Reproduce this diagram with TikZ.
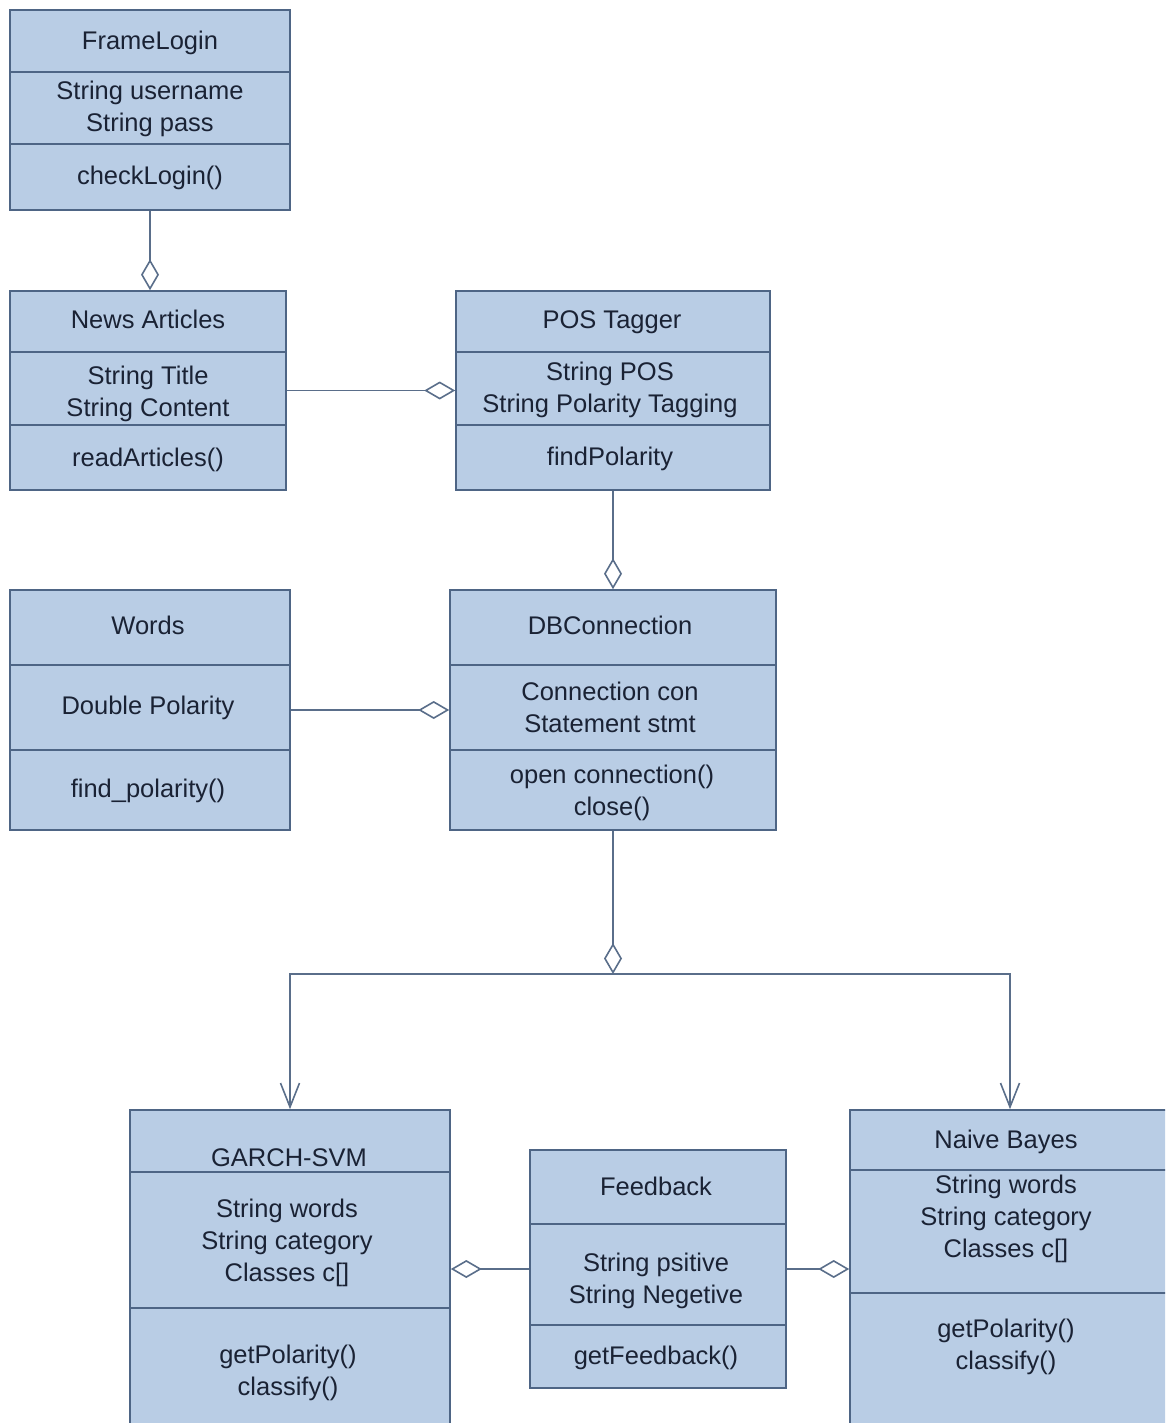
\documentclass[tikz,border=0pt]{standalone}
\usepackage{fontspec}
\setmainfont{Liberation Sans}
\usetikzlibrary{arrows.meta,fit}

\definecolor{boxfill}{HTML}{B9CDE5}
\definecolor{boxline}{HTML}{4E6585}
\definecolor{wire}{HTML}{5A6E8A}
\definecolor{ink}{HTML}{1A2234}

\tikzset{
  cls/.style={draw=boxline, fill=boxfill, line width=1.6pt, inner sep=0pt},
  sep/.style={draw=boxline, line width=1.6pt},
  lbl/.style={anchor=base, inner sep=0pt, text=ink,
              font=\fontsize{25.5}{30}\selectfont},
  link/.style={draw=wire, line width=1.9pt},
  agg/.style={link, -{Diamond[open, fill=white, length=31pt, width=18pt, line width=1.6pt]}},
  gen/.style={link, -{Straight Barb[length=24pt, width=19pt, line width=1.6pt]}}
}

% class box: name, left, top, right, bottom, first divider, second divider
\newcommand{\umlbox}[7]{%
  \node[cls, fit={(#2,#3) (#4,#5)}] (#1) {};
  \draw[sep] (#2,#6) -- (#4,#6);
  \draw[sep] (#2,#7) -- (#4,#7);
}

\begin{document}
\begin{tikzpicture}[x=1pt, y=-1pt]
  \useasboundingbox (0,0) rectangle (1165,1423);
  \clip (0,0) rectangle (1165,1423);

  % boxes
  \umlbox{frame}{10}{10}{290}{210}{72}{144}
  \umlbox{news}{10}{291}{286}{490}{352}{425}
  \umlbox{pos}{456}{291}{770}{490}{352}{425}
  \umlbox{words}{10}{590}{290}{830}{665}{750}
  \umlbox{db}{450}{590}{776}{830}{665}{750}
  \umlbox{garch}{130}{1110}{450}{1440}{1172}{1308}
  \umlbox{fb}{530}{1150}{786}{1388}{1224}{1325}
  \umlbox{nb}{850}{1110}{1170}{1440}{1170}{1293}

  % FrameLogin
  \node[lbl] (frameT) at (150,50) {FrameLogin};
  \node[lbl] (frameA1) at (150,100) {String username};
  \node[lbl] (frameA2) at (150,132) {String pass};
  \node[lbl] (frameM1) at (150,185) {checkLogin()};

  % News Articles
  \node[lbl] (newsT) at (148,328) {News Articles};
  \node[lbl] (newsA1) at (148,384) {String Title};
  \node[lbl] (newsA2) at (148,416) {String Content};
  \node[lbl] (newsM1) at (148,466) {readArticles()};

  % POS Tagger
  \node[lbl] (posT) at (612,328) {POS Tagger};
  \node[lbl] (posA1) at (610,380) {String POS};
  \node[lbl] (posA2) at (610,412) {String Polarity Tagging};
  \node[lbl] (posM1) at (610,465) {findPolarity};

  % Words
  \node[lbl] (wordsT) at (148,634) {Words};
  \node[lbl] (wordsA1) at (148,714) {Double Polarity};
  \node[lbl] (wordsM1) at (148,797) {find\_polarity()};

  % DBConnection
  \node[lbl] (dbT) at (610,634) {DBConnection};
  \node[lbl] (dbA1) at (610,700) {Connection con};
  \node[lbl] (dbA2) at (610,732) {Statement stmt};
  \node[lbl] (dbM1) at (612,783) {open connection()};
  \node[lbl] (dbM2) at (612,815) {close()};

  % GARCH-SVM
  \node[lbl] (garchT) at (289,1166) {GARCH-SVM};
  \node[lbl] (garchA1) at (287,1217) {String words};
  \node[lbl] (garchA2) at (287,1249) {String category};
  \node[lbl] (garchA3) at (287,1281) {Classes c[]};
  \node[lbl] (garchM1) at (288,1363) {getPolarity()};
  \node[lbl] (garchM2) at (288,1395) {classify()};

  % Feedback
  \node[lbl] (fbT) at (656,1195) {Feedback};
  \node[lbl] (fbA1) at (656,1271) {String psitive};
  \node[lbl] (fbA2) at (656,1303) {String Negetive};
  \node[lbl] (fbM1) at (656,1364) {getFeedback()};

  % Naive Bayes
  \node[lbl] (nbT) at (1006,1148) {Naive Bayes};
  \node[lbl] (nbA1) at (1006,1193) {String words};
  \node[lbl] (nbA2) at (1006,1225) {String category};
  \node[lbl] (nbA3) at (1006,1257) {Classes c[]};
  \node[lbl] (nbM1) at (1006,1337) {getPolarity()};
  \node[lbl] (nbM2) at (1006,1369) {classify()};

  % aggregations
  \draw[agg] (frame.south) -- (frame.south |- news.north);
  \draw[agg] (news.east) -- (news.east -| pos.west);
  \draw[agg] (pos.south) -- (pos.south |- db.north);
  \draw[agg] (words.east) -- (words.east -| db.west);
  \draw[agg] (fb.west) -- (fb.west -| garch.east);
  \draw[agg] (fb.east) -- (fb.east -| nb.west);

  % DBConnection branch to the classifiers
  \coordinate (junc) at (db.south |- 0,974);
  \draw[agg] (db.south) -- (junc);
  \draw[gen] (junc) -| (garch.north);
  \draw[gen] (junc) -| (nb.north);
\end{tikzpicture}
\end{document}
